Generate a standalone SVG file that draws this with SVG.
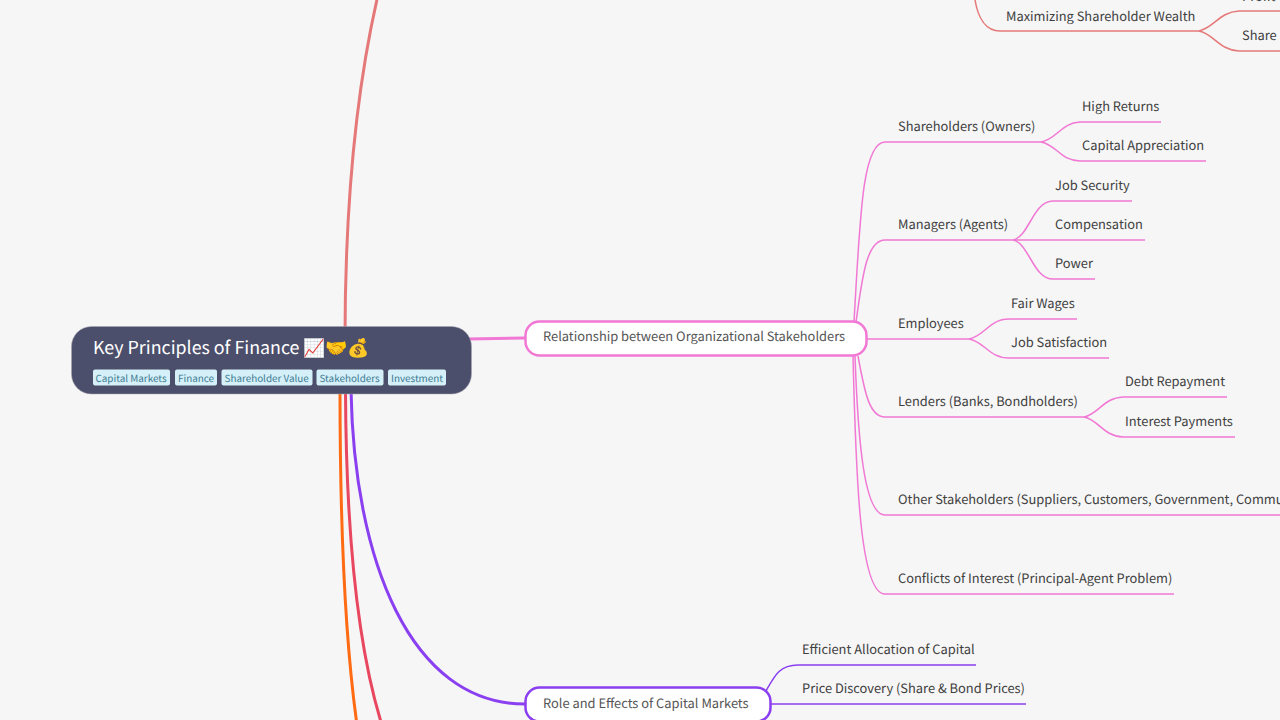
<svg xmlns="http://www.w3.org/2000/svg" width="1280" height="720" viewBox="0 0 1280 720">
<style>
text{font-family:"Noto Sans CJK SC","Noto Sans",sans-serif;font-size:12.870px;fill:#404040;text-rendering:geometricPrecision}
.c{fill:none;stroke-width:1.5}
.m{fill:none;stroke-width:3}
.p{stroke:#f178d4}
.r{stroke:#e57878}
.v{stroke:#8a3ff0}
.n{fill:#fff;stroke-width:2.500}
.nt{fill:#555}
.t{fill:#d5f0f8;stroke:none}
.tt{font-size:9.900px;fill:#3b7a92}
</style>
<rect width="1280" height="720" fill="#f6f6f6"/>
<g id="connectors">
<path class="m r" d="M345 340C345 200 356 90 378 -5"/>
<path class="m" stroke="#ff6a13" d="M340 390C340 520 345 640 357 725"/>
<path class="m" stroke="#e8475f" d="M345.500 390C346 520 356 640 381 722"/>
<path class="m v" d="M351 390C354 560 410 704 525 704"/>
<path class="m p" d="M468 339L525 338"/>
<path class="c r" d="M975 0C978 18 986 31 1000 31H1199"/>
<path class="c r" d="M1199 31C1214 28 1219 12 1239 11H1280"/>
<path class="c r" d="M1199 31C1214 34 1219 50 1239 51H1280"/>
<path class="c p" d="M854 322C860 220 862 142 885 142H1041"/>
<path class="c p" d="M1041 142C1057 139 1061 123 1080 122H1161"/>
<path class="c p" d="M1041 142C1057 145 1061 161 1080 161H1206"/>
<path class="c p" d="M856 322C862 280 866 240 885 240H1013"/>
<path class="c p" d="M1013 240C1029 237 1033 201 1053 201H1132"/>
<path class="c p" d="M1013 240H1145"/>
<path class="c p" d="M1013 240C1029 243 1033 279 1053 279H1095"/>
<path class="c p" d="M867 339H969"/>
<path class="c p" d="M969 339C985 336 989 319 1009 319H1077"/>
<path class="c p" d="M969 339C985 342 989 358 1009 358H1109"/>
<path class="c p" d="M858 356C865 395 870 417 885 417H1084"/>
<path class="c p" d="M1084 417C1099 414 1103 398 1123 397H1227"/>
<path class="c p" d="M1084 417C1099 420 1103 436 1123 437H1235"/>
<path class="c p" d="M855 356C858 440 864 515 885 515H1280"/>
<path class="c p" d="M853 356C856 480 860 594 885 594H1174"/>
<path class="c v" d="M766 691C775 675 780 665 798 665H976"/>
<path class="c v" d="M770 704H1026"/>
</g>
<g id="root">
<rect x="71.500" y="326.500" width="400" height="67.500" rx="20" fill="#4c4f6b" stroke="#a6a7b3" stroke-width="0.500"/>
<text x="93" y="354" style="font-size:17.820px;fill:#fff">Key Principles of Finance 📈🤝💰</text>
<rect class="t" x="93" y="369.500" width="77" height="16" rx="2"/><text class="tt" x="95.500" y="382">Capital Markets</text>
<rect class="t" x="175" y="369.500" width="42" height="16" rx="2"/><text class="tt" x="178" y="382">Finance</text>
<rect class="t" x="221.500" y="369.500" width="91" height="16" rx="2"/><text class="tt" x="224.500" y="382">Shareholder Value</text>
<rect class="t" x="316.500" y="369.500" width="67" height="16" rx="2"/><text class="tt" x="319.500" y="382">Stakeholders</text>
<rect class="t" x="388" y="369.500" width="58" height="16" rx="2"/><text class="tt" x="391" y="382">Investment</text>
</g>
<g id="n-relationship">
<rect class="n p" x="525.500" y="321.500" width="341" height="34" rx="14"/>
<text class="nt" x="543" y="341">Relationship between Organizational Stakeholders</text>
</g>
<g id="n-capital">
<rect class="n v" x="525.500" y="687.500" width="245" height="34" rx="14"/>
<text class="nt" x="543" y="708">Role and Effects of Capital Markets</text>
</g>
<g id="n-wealth"><text x="1006" y="20.500">Maximizing Shareholder Wealth</text></g>
<g id="n-profit"><text x="1242" y="1">Profit</text></g>
<g id="n-share"><text x="1242" y="40">Share Price</text></g>
<g id="n-owners"><text x="898" y="131">Shareholders (Owners)</text></g>
<g id="n-returns"><text x="1082" y="111">High Returns</text></g>
<g id="n-apprec"><text x="1082" y="150">Capital Appreciation</text></g>
<g id="n-managers"><text x="898" y="229">Managers (Agents)</text></g>
<g id="n-job"><text x="1055" y="190">Job Security</text></g>
<g id="n-comp"><text x="1055" y="229">Compensation</text></g>
<g id="n-power"><text x="1055" y="268">Power</text></g>
<g id="n-employees"><text x="898" y="328">Employees</text></g>
<g id="n-wages"><text x="1011" y="308">Fair Wages</text></g>
<g id="n-satisfaction"><text x="1011" y="347">Job Satisfaction</text></g>
<g id="n-lenders"><text x="898" y="406">Lenders (Banks, Bondholders)</text></g>
<g id="n-debt"><text x="1125" y="386">Debt Repayment</text></g>
<g id="n-interest"><text x="1125" y="426">Interest Payments</text></g>
<g id="n-other"><text x="898" y="504">Other Stakeholders (Suppliers, Customers, Government, Community)</text></g>
<g id="n-conflicts"><text x="898" y="583">Conflicts of Interest (Principal-Agent Problem)</text></g>
<g id="n-efficient"><text x="802" y="654">Efficient Allocation of Capital</text></g>
<g id="n-price"><text x="802" y="693">Price Discovery (Share &amp; Bond Prices)</text></g>
</svg>
